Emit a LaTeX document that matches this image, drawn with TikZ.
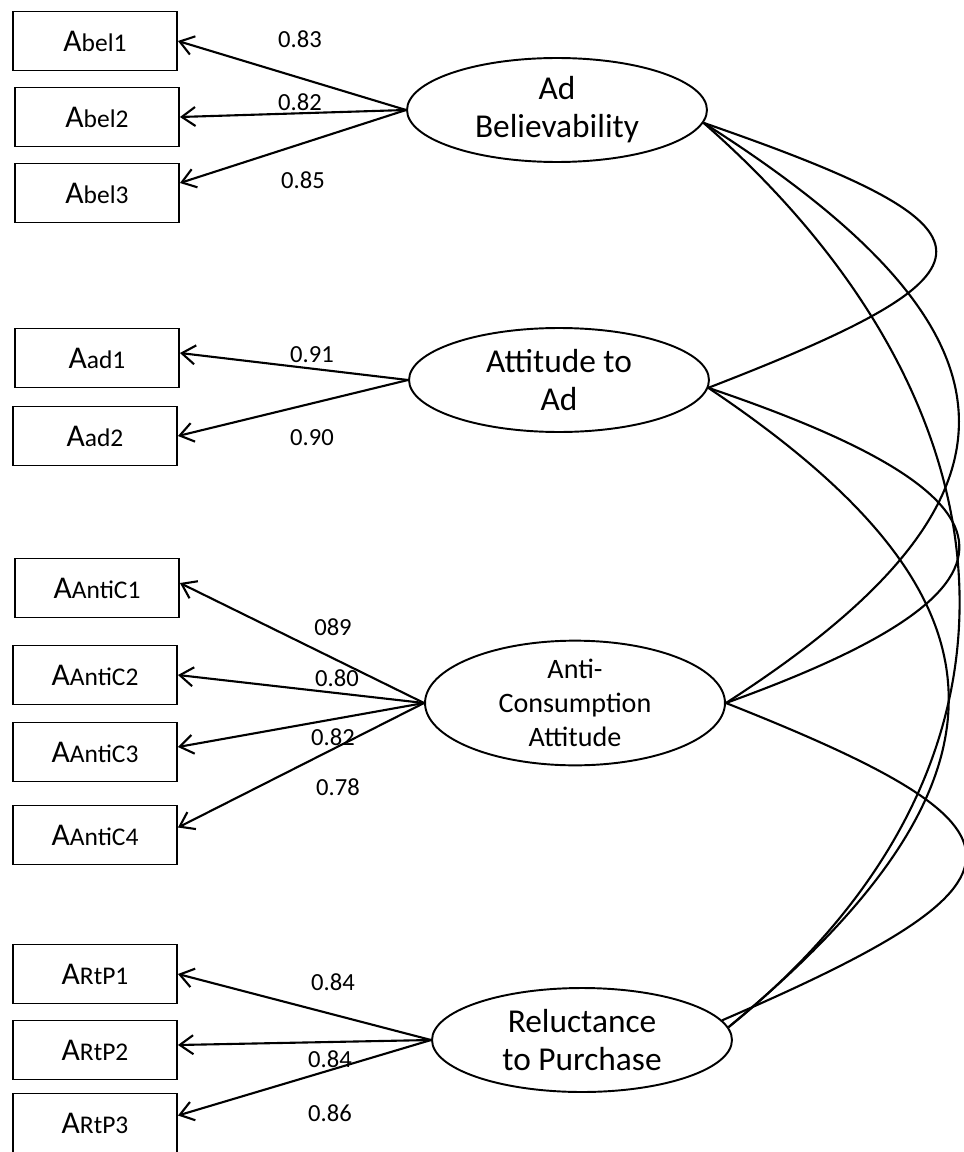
\documentclass[tikz,border=0pt]{standalone}
\usepackage{fontspec}
\setmainfont{Carlito}
\usetikzlibrary{arrows.meta,shapes.geometric}

\tikzset{
  obsbox/.style={draw,line width=1.1pt,minimum width=3.28cm,minimum height=1.18cm,inner sep=0pt},
  latent/.style={draw,ellipse,line width=1.1pt,minimum width=6cm,minimum height=2.08cm,inner sep=0pt,align=center,font=\fontsize{19}{21.6}\selectfont},
  load/.style={-{Straight Barb[length=2.7mm,width=3.8mm,line width=1.2pt]},line width=1.2pt},
  cov/.style={line width=1.2pt},
  coef/.style={font=\fontsize{14}{16}\selectfont}
}
\newcommand{\itemlab}[1]{{\fontsize{18}{18}\selectfont A}{\fontsize{14.5}{16}\selectfont #1}}

\begin{document}
\begin{tikzpicture}[x=0.02cm,y=-0.02cm]
 \useasboundingbox (0,0) rectangle (963,1152);

 % indicators
 \node[obsbox] (abel1) at (95,41) {\itemlab{bel1}};
 \node[obsbox] (abel2) at (97,117) {\itemlab{bel2}};
 \node[obsbox] (abel3) at (97,193) {\itemlab{bel3}};
 \node[obsbox] (aad1) at (97,358) {\itemlab{ad1}};
 \node[obsbox] (aad2) at (95,436) {\itemlab{ad2}};
 \node[obsbox] (anti1) at (97,588) {\itemlab{AntiC1}};
 \node[obsbox] (anti2) at (95,675) {\itemlab{AntiC2}};
 \node[obsbox] (anti3) at (95,752) {\itemlab{AntiC3}};
 \node[obsbox] (anti4) at (95,835) {\itemlab{AntiC4}};
 \node[obsbox] (rtp1) at (95,974) {\itemlab{RtP1}};
 \node[obsbox] (rtp2) at (95,1050) {\itemlab{RtP2}};
 \node[obsbox] (rtp3) at (95,1123) {\itemlab{RtP3}};

 % latent variables
 \node[latent] (adb) at (557,110) {Ad\\Believability};
 \node[latent] (att) at (559,380) {Attitude to\\Ad};
 \node[latent,font=\fontsize{16}{19.5}\selectfont] (anti) at (575,703) {Anti-\\Consumption\\Attitude};
 \node[latent] (rel) at (582,1040) {Reluctance\\to Purchase};

 % loadings
 \draw[load] (adb.west) -- (abel1.east);
 \draw[load] (adb.west) -- (abel2.east);
 \draw[load] (adb.west) -- ([yshift=0.2cm]abel3.east);
 \draw[load] (att.west) -- ([yshift=0.1cm]aad1.east);
 \draw[load] (att.west) -- (aad2.east);
 \draw[load] (anti.west) -- ([yshift=0.1cm]anti1.east);
 \draw[load] (anti.west) -- (anti2.east);
 \draw[load] (anti.west) -- ([yshift=0.1cm]anti3.east);
 \draw[load] (anti.west) -- ([yshift=0.15cm]anti4.east);
 \draw[load] (rel.west) -- (rtp1.east);
 \draw[load] (rel.west) -- ([yshift=0.1cm]rtp2.east);
 \draw[load] (rel.west) -- ([yshift=0.15cm]rtp3.east);

 \node[coef] (c1) at (300,39) {0.83};
 \node[coef] (c2) at (300,102) {0.82};
 \node[coef] (c3) at (303,180) {0.85};
 \node[coef] (c4) at (312,355) {0.91};
 \node[coef] (c5) at (312,438) {0.90};
 \node[coef] (c6) at (333,627) {089};
 \node[coef] (c7) at (337,678) {0.80};
 \node[coef] (c8) at (333,737) {0.82};
 \node[coef] (c9) at (338,787) {0.78};
 \node[coef] (c10) at (333,982) {0.84};
 \node[coef] (c11) at (330,1059) {0.84};
 \node[coef] (c12) at (330,1113) {0.86};

 % covariances
 \draw[cov] (adb.-5) .. controls (1013,230) and (1013,270) .. (att.-3);
 \draw[cov] (adb.-5) .. controls (1030,330) and (1050,495) .. (anti.east);
 \draw[cov] (adb.-5) .. controls (1020,400) and (1060,760) .. (rel.5);
 \draw[cov] (att.-3) .. controls (1040,500) and (1040,590) .. (anti.east);
 \draw[cov] (att.-3) .. controls (1010,590) and (1040,770) .. (rel.5);
 \draw[cov] (anti.east) .. controls (1047,830) and (1047,880) .. (rel.8);
\end{tikzpicture}
\end{document}
